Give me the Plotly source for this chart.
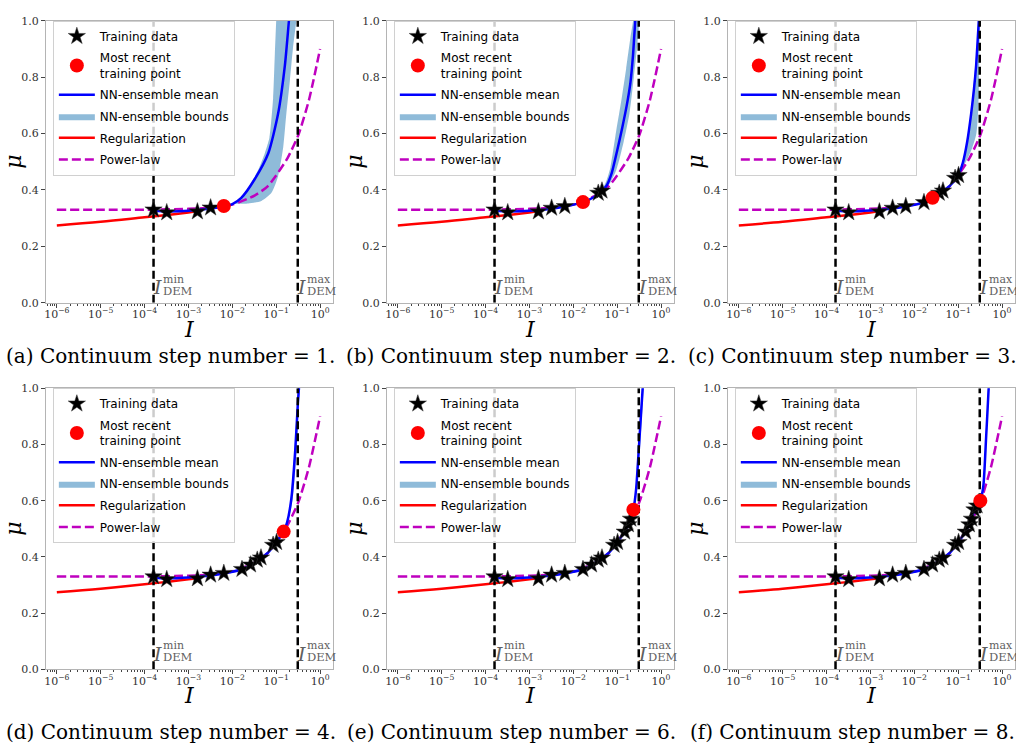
import numpy as np
import plotly.graph_objects as go

# ---------------------------------------------------------------- data
I_MIN = 1.6e-4
I_MAX = 0.31

# shared curves
reg_I = [1e-6, 1e-5, 1e-4, 3.2e-4, 1e-3, 1.7e-3]
reg_mu = [0.274, 0.287, 0.303, 0.311, 0.320, 0.325]

pow_I = [1e-6, 1e-5, 1e-4, 1e-3, 3.2e-3, 1e-2, 3.2e-2, 6.3e-2, 0.1, 0.18, 0.32, 0.56, 1.0]
pow_mu = [0.330, 0.330, 0.330, 0.333, 0.337, 0.348, 0.380, 0.412, 0.452, 0.512, 0.595, 0.720, 0.900]

# (a) step 1
a_star_I = [1.6e-4, 3.2e-4, 1.6e-3, 3.2e-3]
a_star_mu = [0.330, 0.320, 0.323, 0.337]
a_new_I, a_new_mu = 6.4e-3, 0.343
a_mean_I = [1.6e-4, 3.2e-4, 1e-3, 3.2e-3, 6.4e-3, 1e-2, 1.6e-2, 3.2e-2, 6.6e-2, 0.11, 0.158, 0.195, 0.23]
a_mean_mu = [0.326, 0.324, 0.326, 0.334, 0.342, 0.350, 0.372, 0.437, 0.530, 0.669, 0.843, 1.0, 1.12]
a_up_I = [1e-2, 1.4e-2, 2.0e-2, 2.8e-2, 4.0e-2, 5.5e-2, 7.0e-2, 8.5e-2, 9.3e-2, 0.10, 0.11]
a_up_mu = [0.350, 0.366, 0.392, 0.430, 0.475, 0.530, 0.585, 0.725, 0.880, 1.0, 1.15]
a_lo_I = [1e-2, 1.4e-2, 2.3e-2, 4.6e-2, 7.8e-2, 0.11, 0.145, 0.17, 0.204, 0.24, 0.287, 0.32]
a_lo_mu = [0.350, 0.351, 0.352, 0.361, 0.390, 0.448, 0.553, 0.669, 0.785, 0.900, 1.0, 1.08]

# (b) step 2
b_star_I = [1.6e-4, 3.2e-4, 1.6e-3, 3.2e-3, 6.4e-3, 3.7e-2, 4.5e-2]
b_star_mu = [0.330, 0.320, 0.323, 0.336, 0.342, 0.389, 0.397]
b_new_I, b_new_mu = 1.66e-2, 0.357
b_mean_I = [1.6e-4, 3.2e-4, 1e-3, 3.2e-3, 6.4e-3, 1.66e-2, 3e-2, 4.3e-2, 5.6e-2, 7.5e-2, 0.1, 0.13, 0.165, 0.2, 0.23, 0.258, 0.3]
b_mean_mu = [0.326, 0.324, 0.326, 0.333, 0.341, 0.357, 0.375, 0.394, 0.413, 0.46, 0.54, 0.62, 0.70, 0.78, 0.88, 1.0, 1.12]
b_up_I = [4.3e-2, 5.6e-2, 7e-2, 9.5e-2, 0.125, 0.16, 0.2, 0.23, 0.27]
b_up_mu = [0.394, 0.43, 0.48, 0.61, 0.72, 0.83, 0.94, 1.0, 1.12]
b_lo_I = [4.3e-2, 6e-2, 9.5e-2, 0.14, 0.19, 0.24, 0.29, 0.32, 0.36]
b_lo_mu = [0.394, 0.41, 0.47, 0.57, 0.67, 0.80, 0.92, 1.0, 1.1]

# (c) step 3
c_star_I = [1.6e-4, 3.2e-4, 1.6e-3, 3.2e-3, 6.4e-3, 1.66e-2, 3.7e-2, 4.5e-2, 8.5e-2, 0.102]
c_star_mu = [0.330, 0.320, 0.323, 0.336, 0.342, 0.356, 0.389, 0.397, 0.442, 0.452]
c_new_I, c_new_mu = 2.6e-2, 0.372
c_mean_I = [1.6e-4, 3.2e-4, 1e-3, 3.2e-3, 6.4e-3, 1.66e-2, 2.6e-2, 4.2e-2, 6.5e-2, 0.1, 0.127, 0.16, 0.197, 0.23, 0.257, 0.295, 0.33]
c_mean_mu = [0.326, 0.324, 0.327, 0.334, 0.341, 0.356, 0.371, 0.392, 0.415, 0.452, 0.495, 0.57, 0.669, 0.76, 0.843, 1.0, 1.12]
c_up_I = [0.1, 0.127, 0.16, 0.195, 0.25, 0.29, 0.32]
c_up_mu = [0.452, 0.498, 0.575, 0.675, 0.855, 1.0, 1.12]
c_lo_I = [0.1, 0.15, 0.21, 0.26, 0.285, 0.30, 0.315, 0.34]
c_lo_mu = [0.452, 0.50, 0.55, 0.60, 0.68, 0.80, 1.0, 1.12]

# (d) step 4
d_star_I = [1.6e-4, 3.2e-4, 1.6e-3, 3.2e-3, 6.4e-3, 1.66e-2, 2.6e-2, 3.7e-2, 4.5e-2, 8.5e-2, 0.102]
d_star_mu = [0.330, 0.320, 0.323, 0.336, 0.342, 0.356, 0.372, 0.389, 0.397, 0.442, 0.452]
d_new_I, d_new_mu = 0.148, 0.490
d_mean_I = [1.6e-4, 3.2e-4, 1e-3, 3.2e-3, 6.4e-3, 1.66e-2, 2.6e-2, 4.2e-2, 6.5e-2, 0.1, 0.148, 0.178, 0.221, 0.272, 0.314, 0.33, 0.36]
d_mean_mu = [0.326, 0.324, 0.327, 0.334, 0.341, 0.356, 0.371, 0.392, 0.415, 0.452, 0.49, 0.524, 0.606, 0.781, 0.956, 1.0, 1.1]
d_up_I = [0.148, 0.178, 0.215, 0.265, 0.305, 0.325, 0.35]
d_up_mu = [0.49, 0.526, 0.612, 0.79, 0.96, 1.0, 1.1]
d_lo_I = [0.148, 0.19, 0.24, 0.29, 0.33, 0.345, 0.37]
d_lo_mu = [0.49, 0.53, 0.61, 0.77, 0.94, 1.0, 1.1]

# (e) step 6
e_star_I = [1.6e-4, 3.2e-4, 1.6e-3, 3.2e-3, 6.4e-3, 1.66e-2, 2.6e-2, 3.7e-2, 4.5e-2, 8.5e-2, 0.102, 0.148, 0.18, 0.205]
e_star_mu = [0.330, 0.320, 0.323, 0.336, 0.342, 0.356, 0.372, 0.389, 0.397, 0.442, 0.452, 0.489, 0.515, 0.535]
e_new_I, e_new_mu = 0.234, 0.568
e_mean_I = [1.6e-4, 3.2e-4, 1e-3, 3.2e-3, 6.4e-3, 1.66e-2, 2.6e-2, 4.2e-2, 6.5e-2, 0.1, 0.148, 0.18, 0.205, 0.234, 0.27, 0.31, 0.38, 0.42]
e_mean_mu = [0.326, 0.324, 0.327, 0.334, 0.341, 0.356, 0.371, 0.392, 0.415, 0.452, 0.49, 0.515, 0.537, 0.568, 0.641, 0.781, 0.997, 1.1]
e_up_I = [0.234, 0.265, 0.30, 0.365, 0.40]
e_up_mu = [0.568, 0.64, 0.78, 1.0, 1.1]
e_lo_I = [0.234, 0.28, 0.33, 0.40, 0.44]
e_lo_mu = [0.568, 0.64, 0.78, 1.0, 1.1]

# (f) step 8
f_star_I = [1.6e-4, 3.2e-4, 1.6e-3, 3.2e-3, 6.4e-3, 1.66e-2, 2.6e-2, 3.7e-2, 4.5e-2, 8.5e-2, 0.102, 0.148, 0.18, 0.205, 0.234, 0.27]
f_star_mu = [0.330, 0.320, 0.323, 0.336, 0.342, 0.356, 0.372, 0.389, 0.397, 0.442, 0.452, 0.489, 0.515, 0.535, 0.568, 0.582]
f_new_I, f_new_mu = 0.32, 0.600
f_mean_I = [1.6e-4, 3.2e-4, 1e-3, 3.2e-3, 6.4e-3, 1.66e-2, 2.6e-2, 4.2e-2, 6.5e-2, 0.1, 0.148, 0.18, 0.205, 0.234, 0.27, 0.32, 0.375, 0.43, 0.495, 0.53]
f_mean_mu = [0.326, 0.324, 0.327, 0.334, 0.341, 0.356, 0.371, 0.392, 0.415, 0.452, 0.49, 0.515, 0.537, 0.568, 0.583, 0.600, 0.653, 0.816, 1.0, 1.1]
f_up_I = [0.32, 0.37, 0.42, 0.48, 0.52]
f_up_mu = [0.600, 0.66, 0.82, 1.0, 1.1]
f_lo_I = [0.32, 0.385, 0.445, 0.51, 0.55]
f_lo_mu = [0.600, 0.65, 0.81, 1.0, 1.1]

captions = [
    "(a) Continuum step number = 1.",
    "(b) Continuum step number = 2.",
    "(c) Continuum step number = 3.",
    "(d) Continuum step number = 4.",
    "(e) Continuum step number = 6.",
    "(f) Continuum step number = 8.",
]

x_tick_vals = [1e-6, 1e-5, 1e-4, 1e-3, 1e-2, 1e-1, 1e0]
x_tick_text = ["10<sup>−6</sup>", "10<sup>−5</sup>", "10<sup>−4</sup>", "10<sup>−3</sup>",
               "10<sup>−2</sup>", "10<sup>−1</sup>", "10<sup>0</sup>"]
y_tick_vals = [0.0, 0.2, 0.4, 0.6, 0.8, 1.0]
y_tick_text = ["0.0", "0.2", "0.4", "0.6", "0.8", "1.0"]

panels = [
    (a_star_I, a_star_mu, a_new_I, a_new_mu, a_mean_I, a_mean_mu, a_up_I, a_up_mu, a_lo_I, a_lo_mu),
    (b_star_I, b_star_mu, b_new_I, b_new_mu, b_mean_I, b_mean_mu, b_up_I, b_up_mu, b_lo_I, b_lo_mu),
    (c_star_I, c_star_mu, c_new_I, c_new_mu, c_mean_I, c_mean_mu, c_up_I, c_up_mu, c_lo_I, c_lo_mu),
    (d_star_I, d_star_mu, d_new_I, d_new_mu, d_mean_I, d_mean_mu, d_up_I, d_up_mu, d_lo_I, d_lo_mu),
    (e_star_I, e_star_mu, e_new_I, e_new_mu, e_mean_I, e_mean_mu, e_up_I, e_up_mu, e_lo_I, e_lo_mu),
    (f_star_I, f_star_mu, f_new_I, f_new_mu, f_mean_I, f_mean_mu, f_up_I, f_up_mu, f_lo_I, f_lo_mu),
]

# ---------------------------------------------------------------- layout geometry (pixels)
W, H = 1016, 750
COL_LEFT = [44, 386, 728]
AX_W = 288
ROW_TOP = [15, 389]
ROW_BOT = [302, 675]

SERIF = "DejaVu Serif"
SANS = "DejaVu Sans"
FRAME = "#b4b4b4"
TICK = "#444444"
LABEL_GRAY = "#5f5f5f"

BLUE = "#0000ff"
RED = "#ff0000"
MAGENTA = "#bf00bf"
BAND = "rgba(31,119,180,0.5)"

minor_vals = [k * 10.0 ** e for e in range(-7, 1) for k in range(2, 10)]

fig = go.Figure()
annotations = []
layout_axes = {}

for p, data in enumerate(panels):
    (s_I, s_mu, n_I, n_mu, m_I, m_mu, u_I, u_mu, l_I, l_mu) = data
    k = p + 1
    row, col = divmod(p, 3)
    xa = "x" if k == 1 else f"x{k}"
    ya = "y" if k == 1 else f"y{k}"
    leg = "legend" if k == 1 else f"legend{k}"
    common = dict(xaxis=xa, yaxis=ya, legend=leg)

    left = COL_LEFT[col]
    top, bot = ROW_TOP[row], ROW_BOT[row]

    # ensemble band (lower edge, then upper edge filled down to it)
    fig.add_trace(go.Scatter(x=l_I, y=l_mu, mode="lines", line=dict(width=0, shape="spline", smoothing=0.6),
                             showlegend=False, hoverinfo="skip", **common))
    fig.add_trace(go.Scatter(x=u_I, y=u_mu, mode="lines", fill="tonexty", fillcolor=BAND,
                             line=dict(width=0, shape="spline", smoothing=0.6),
                             name="NN-ensemble bounds", legendrank=4, legendgroup=f"g4_{k}", **common))
    # regularization and power-law
    fig.add_trace(go.Scatter(x=reg_I, y=reg_mu, mode="lines", line=dict(color=RED, width=2.5, shape="spline"),
                             name="Regularization", legendrank=5, legendgroup=f"g5_{k}", **common))
    fig.add_trace(go.Scatter(x=pow_I, y=pow_mu, mode="lines",
                             line=dict(color=MAGENTA, width=2.5, dash="9px,4px", shape="spline", smoothing=0.6),
                             name="Power-law", legendrank=6, legendgroup=f"g6_{k}", **common))
    # ensemble mean
    fig.add_trace(go.Scatter(x=m_I, y=m_mu, mode="lines",
                             line=dict(color=BLUE, width=2.5, shape="spline", smoothing=0.6),
                             name="NN-ensemble mean", legendrank=3, legendgroup=f"g3_{k}", **common))
    # DEM bounds
    for xv in (I_MIN, I_MAX):
        fig.add_trace(go.Scatter(x=[xv, xv], y=[0.0, 1.0], mode="lines",
                                 line=dict(color="black", width=2.5, dash="8px,4px"),
                                 showlegend=False, hoverinfo="skip", **common))
    # training points
    fig.add_trace(go.Scatter(x=s_I, y=s_mu, mode="markers",
                             marker=dict(symbol="star", size=13, color="black", line=dict(width=0.5, color="#333")),
                             name="Training data", legendrank=1, legendgroup=f"g1_{k}", **common))
    fig.add_trace(go.Scatter(x=[n_I], y=[n_mu], mode="markers",
                             marker=dict(symbol="circle", size=14, color=RED),
                             name="Most recent<br>training point", legendrank=2, legendgroup=f"g2_{k}", **common))

    sfx = "" if k == 1 else str(k)
    layout_axes[f"xaxis{sfx}"] = dict(
        type="log", range=[-6.25, 0.295], domain=[left / W, min((left + AX_W) / W, 1.0)],
        anchor=ya, showline=True, mirror=True, linecolor=FRAME, linewidth=1,
        showgrid=False, zeroline=False, ticks="outside", ticklen=4, tickwidth=1, tickcolor=TICK,
        tickmode="array", tickvals=x_tick_vals, ticktext=x_tick_text, ticklabelstandoff=-3,
        tickfont=dict(family=SERIF, size=11, color="#333"),
        minor=dict(tickmode="array", tickvals=minor_vals, ticks="outside", ticklen=2, tickwidth=0.8,
                   tickcolor=TICK, showgrid=False),
    )
    layout_axes[f"yaxis{sfx}"] = dict(
        range=[0, 1], domain=[1 - bot / H, 1 - top / H], anchor=xa,
        showline=True, mirror=True, linecolor=FRAME, linewidth=1,
        showgrid=False, zeroline=False, ticks="outside", ticklen=4, tickwidth=1, tickcolor=TICK,
        tickmode="array", tickvals=y_tick_vals, ticktext=y_tick_text,
        tickfont=dict(family=SERIF, size=11, color="#333"),
    )
    layout_axes[leg] = dict(
        x=(left + 7) / W, y=1 - top / H, xanchor="left", yanchor="top",
        bgcolor="rgba(255,255,255,0.8)", bordercolor="#d0d0d0", borderwidth=1,
        font=dict(family=SANS, size=12, color="black"), itemwidth=36,
        tracegroupgap=2.6, traceorder="grouped",
    )

    # axis titles
    annotations.append(dict(xref="paper", yref="paper", x=(left + AX_W / 2) / W, y=1 - (bot + 27) / H,
                            text="<i>I</i>", showarrow=False, xanchor="center", yanchor="middle",
                            font=dict(family=SERIF, size=22, color="black")))
    annotations.append(dict(xref="paper", yref="paper", x=(left - 32) / W, y=1 - ((top + bot) / 2) / H,
                            text="<i>μ</i>", showarrow=False, xanchor="center", yanchor="middle", textangle=-90,
                            font=dict(family=SERIF, size=22, color="black")))
    # DEM bound labels
    for xv, sup in ((I_MIN, "min"), (I_MAX, "max")):
        lx = float(np.log10(xv))
        annotations.append(dict(xref=xa, yref=ya, x=lx, y=0.056, text="<i>I</i>", showarrow=False,
                                xanchor="left", yanchor="middle", xshift=-2, borderpad=0,
                                font=dict(family=SERIF, size=19, color=LABEL_GRAY)))
        annotations.append(dict(xref=xa, yref=ya, x=lx, y=0.084, text=sup, showarrow=False,
                                xanchor="left", yanchor="middle", xshift=8, borderpad=0,
                                font=dict(family=SERIF, size=11, color=LABEL_GRAY)))
        annotations.append(dict(xref=xa, yref=ya, x=lx, y=0.042, text="DEM", showarrow=False,
                                xanchor="left", yanchor="middle", xshift=8, borderpad=0,
                                font=dict(family=SERIF, size=11.5, color=LABEL_GRAY)))
    # caption
    annotations.append(dict(xref="paper", yref="paper", x=(left + 125) / W,
                            y=1 - (356 if row == 0 else 739) / H,
                            text=captions[p], showarrow=False, xanchor="center", yanchor="middle",
                            font=dict(family=SERIF, size=20, color="black")))

fig.update_layout(
    width=W, height=H, margin=dict(l=0, r=0, t=0, b=0),
    paper_bgcolor="white", plot_bgcolor="white",
    annotations=annotations, **layout_axes,
)

fig.write_html("out.html")
